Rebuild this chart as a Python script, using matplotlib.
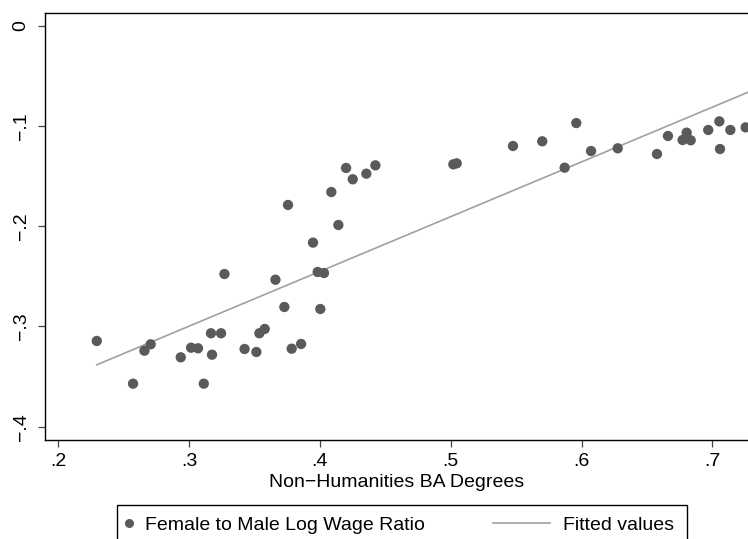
#!/usr/bin/env python
# -*- coding: utf-8 -*-

import numpy as np
import matplotlib
matplotlib.use('Agg')
import matplotlib.pyplot as plt
from matplotlib.patches import Rectangle
from matplotlib.lines import Line2D

plt.rcParams['font.family'] = ['Liberation Sans', 'DejaVu Sans']

# share of non-humanities BA degrees
nonhum_share = [0.2294, 0.2571, 0.2658, 0.2706, 0.2936, 0.3015, 0.3068, 0.3112,
                0.3167, 0.3175, 0.3244, 0.3270, 0.3424, 0.3514, 0.3537, 0.3578,
                0.3660, 0.3728, 0.3756, 0.3784, 0.3856, 0.3947, 0.3983, 0.4003,
                0.4031, 0.4087, 0.4141, 0.4200, 0.4251, 0.4355, 0.4424, 0.5020,
                0.5046, 0.5476, 0.5700, 0.5871, 0.5960, 0.6073, 0.6277, 0.6577,
                0.6661, 0.6773, 0.6804, 0.6835, 0.6969, 0.7054, 0.7059, 0.7138,
                0.7255]
# female to male log wage ratio
wage_ratio = [-0.3145, -0.3571, -0.3242, -0.3178, -0.3308, -0.3212, -0.3218, -0.3571,
              -0.3068, -0.3282, -0.3068, -0.2477, -0.3225, -0.3255, -0.3068, -0.3025,
              -0.2534, -0.2806, -0.1788, -0.3222, -0.3175, -0.2164, -0.2457, -0.2826,
              -0.2467, -0.1659, -0.1988, -0.1419, -0.1532, -0.1476, -0.1393, -0.1383,
              -0.1373, -0.1200, -0.1153, -0.1416, -0.0971, -0.1250, -0.1223, -0.1280,
              -0.1100, -0.1140, -0.1067, -0.1143, -0.1040, -0.0954, -0.1230, -0.1040,
              -0.1014]

xticks = [0.2, 0.3, 0.4, 0.5, 0.6, 0.7]
xticklabels = ['.2', '.3', '.4', '.5', '.6', '.7']
yticks = [-0.4, -0.3, -0.2, -0.1, 0.0]
yticklabels = ['\u2212.4', '\u2212.3', '\u2212.2', '\u2212.1', '0']

dot_color = '#5a5a5a'
fit_color = '#a0a0a0'
W, H = 748, 539

fig = plt.figure(figsize=(W / 100.0, H / 100.0), dpi=100)
ax = fig.add_axes([45.0 / W, 1 - 440.0 / H, 1 - 45.0 / W, (440.0 - 13.3) / H])

x = np.array(nonhum_share)
y = np.array(wage_ratio)
p = np.polyfit(x, y, 1)
xfit = np.array([x.min(), 0.74])
yfit = p[0] * xfit + p[1]

ax.plot(xfit, yfit, color=fit_color, linewidth=1.2, zorder=2)
ax.scatter(x, y, s=55, color=dot_color, edgecolors='none', zorder=3)

ax.set_xlim(0.1898, 0.7273)
ax.set_ylim(-0.4133, 0.0124)
ax.set_xticks(xticks)
ax.set_xticklabels(xticklabels)
ax.set_yticks(yticks)
ax.set_yticklabels(yticklabels, rotation=90, va='center')

for s in ['left', 'bottom', 'top']:
    ax.spines[s].set_linewidth(1.0)
    ax.spines[s].set_color('black')
ax.spines['right'].set_visible(False)
ax.tick_params(axis='x', length=5, width=0.9, color='#444444', pad=4, labelsize=14)
ax.tick_params(axis='y', length=5, width=0.9, color='#444444', pad=6, labelsize=14)
ax.set_xlabel('Non\u2212Humanities BA Degrees', fontsize=14, labelpad=3.3)

# legend frame (bottom is cut by the image edge)
fig.patches.append(Rectangle((117.0 / W, 1 - 545.0 / H), (687.0 - 117.0) / W, 40.0 / H,
                             transform=fig.transFigure, facecolor='white',
                             edgecolor='black', linewidth=1.0))

h1 = Line2D([], [], linestyle='none', marker='o', markersize=6.5,
            markerfacecolor=dot_color, markeredgecolor='none')
h2 = Line2D([], [], color=fit_color, linewidth=1.2)
em = 14 * 100 / 72.0
fig.legend([h1], ['Female to Male Log Wage Ratio'], loc='center left',
           bbox_to_anchor=((129 - 0.3 * em) / W, 1 - 525.0 / H),
           frameon=False, fontsize=14, borderpad=0, borderaxespad=0,
           handlelength=0.6, handletextpad=0.52)
fig.legend([h2], ['Fitted values'], loc='center left',
           bbox_to_anchor=(493.0 / W, 1 - 525.0 / H),
           frameon=False, fontsize=14, borderpad=0, borderaxespad=0,
           handlelength=57.0 / em, handletextpad=13.0 / em)

fig.savefig('out.png', dpi=100)
